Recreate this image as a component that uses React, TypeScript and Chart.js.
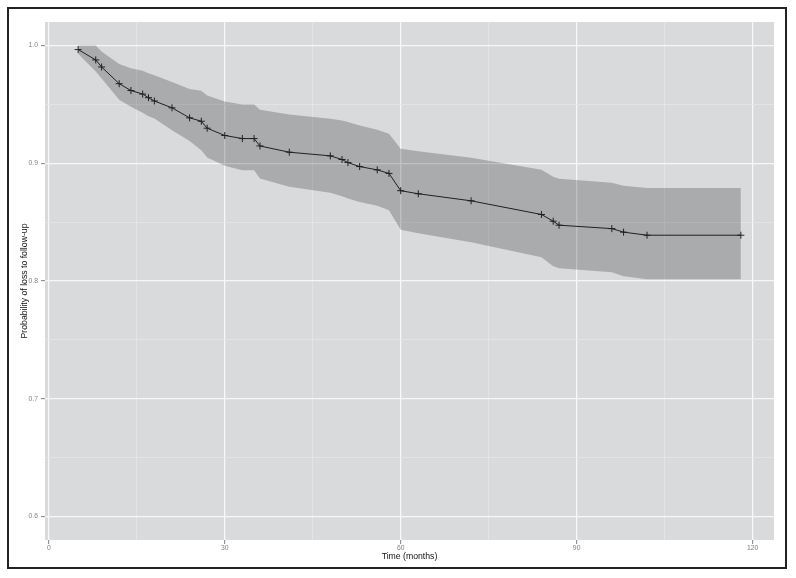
import React, { useEffect, useRef } from "react";
import { Chart, registerables } from "chart.js";

Chart.register(...registerables);

// Follow-up times (months)
const times = [5, 8, 9, 12, 14, 16, 17, 18, 21, 24, 26, 27, 30, 33, 35, 36, 41, 48, 50, 51, 53, 56, 58, 60, 63, 72, 84, 86, 87, 96, 98, 102, 118];
// Estimated probability
const estimate = [0.9966, 0.9878, 0.9818, 0.9676, 0.9618, 0.9588, 0.9557, 0.9529, 0.9471, 0.9386, 0.9357, 0.9298, 0.9236, 0.921, 0.921, 0.9147, 0.9094, 0.9063, 0.9032, 0.9006, 0.8972, 0.8944, 0.8914, 0.8767, 0.8741, 0.8681, 0.8565, 0.8508, 0.8474, 0.8445, 0.8415, 0.8389, 0.8389];
// Upper confidence bound
const upper = [1.0, 1.0, 0.995, 0.9843, 0.9807, 0.9785, 0.9765, 0.9748, 0.969, 0.963, 0.9615, 0.9575, 0.9525, 0.95, 0.95, 0.9455, 0.9415, 0.9378, 0.9363, 0.935, 0.932, 0.9284, 0.925, 0.9123, 0.9103, 0.9046, 0.8944, 0.8885, 0.8868, 0.8835, 0.881, 0.8789, 0.8789];
// Lower confidence bound
const lower = [0.993, 0.978, 0.972, 0.954, 0.948, 0.943, 0.94, 0.938, 0.928, 0.919, 0.911, 0.905, 0.898, 0.894, 0.894, 0.887, 0.88, 0.875, 0.872, 0.87, 0.867, 0.864, 0.86, 0.8435, 0.8405, 0.833, 0.8202, 0.8125, 0.8109, 0.8075, 0.804, 0.8015, 0.8015];

const xTicks = [0, 15, 30, 45, 60, 75, 90, 105, 120];
const yTicks = [0.6, 0.65, 0.7, 0.75, 0.8, 0.85, 0.9, 0.95, 1.0];
const xMajor = [0, 30, 60, 90, 120];
const yMajor = [0.6, 0.7, 0.8, 0.9, 1.0];

const xTitle = "Time (months)";
const yTitle = "Probability of loss to follow-up";

const PANEL = "rgb(217,218,220)";
const FONT = "'Liberation Sans', Arial, Helvetica, sans-serif";

const isMajorX = (v: number) => xMajor.some((m) => Math.abs(m - v) < 1e-6);
const isMajorY = (v: number) => yMajor.some((m) => Math.abs(m - v) < 1e-6);

const bgPlugin = {
  id: "ggbg",
  beforeDraw(chart: any) {
    const { ctx, chartArea } = chart;
    ctx.save();
    ctx.fillStyle = "#ffffff";
    ctx.fillRect(0, 0, chart.width, chart.height);
    ctx.fillStyle = PANEL;
    ctx.fillRect(chartArea.left, chartArea.top, chartArea.right - chartArea.left, chartArea.bottom - chartArea.top);
    ctx.restore();
  },
  afterDraw(chart: any) {
    const { ctx } = chart;
    ctx.save();
    ctx.strokeStyle = "#222222";
    ctx.lineWidth = 2;
    ctx.strokeRect(8, 8, 778, 560);
    ctx.restore();
  },
};

export default function App() {
  const ref = useRef<HTMLCanvasElement>(null);

  useEffect(() => {
    if (!ref.current) return;
    const pts = (arr: number[]) => times.map((t, i) => ({ x: t, y: arr[i] }));
    const chart = new Chart(ref.current, {
      type: "line",
      data: {
        datasets: [
          {
            data: pts(upper),
            borderWidth: 0,
            borderColor: "rgba(0,0,0,0)",
            pointRadius: 0,
            backgroundColor: "rgba(0,0,0,0.215)",
            fill: "+1",
            tension: 0,
          },
          {
            data: pts(lower),
            borderWidth: 0,
            borderColor: "rgba(0,0,0,0)",
            pointRadius: 0,
            fill: false,
            tension: 0,
          },
          {
            data: pts(estimate),
            borderColor: "#2a2a2a",
            borderWidth: 1,
            pointStyle: "cross",
            pointRadius: 3.5,
            pointBorderWidth: 1,
            pointBorderColor: "#2a2a2a",
            fill: false,
            tension: 0,
          },
        ],
      },
      options: {
        animation: false,
        responsive: false,
        devicePixelRatio: 1,
        layout: { padding: { left: 0, top: 22, right: 22, bottom: 0 } },
        plugins: { legend: { display: false }, tooltip: { enabled: false }, title: { display: false } },
        scales: {
          x: {
            type: "linear",
            min: -0.65,
            max: 123.65,
            afterBuildTicks: (s: any) => {
              s.ticks = xTicks.map((v) => ({ value: v }));
            },
            afterFit: (s: any) => {
              s.height = 38;
            },
            border: { display: false },
            grid: {
              color: (c: any) => (isMajorX(c.tick?.value) ? "#f7f7f8" : "rgb(229,230,232)"),
              lineWidth: (c: any) => (isMajorX(c.tick?.value) ? 1.3 : 0.8),
              tickColor: (c: any) => (isMajorX(c.tick?.value) ? "#808080" : "rgba(0,0,0,0)"),
              tickLength: 4,
              tickWidth: 1,
            },
            ticks: {
              autoSkip: false,
              maxRotation: 0,
              padding: 0,
              color: "#808080",
              font: { family: FONT, size: 6.8 },
              callback: (v: any) => (isMajorX(v) ? String(v) : ""),
            },
            title: {
              display: true,
              text: xTitle,
              color: "#111111",
              font: { family: FONT, size: 8.7 },
              padding: { top: 0, bottom: 16 },
            },
          },
          y: {
            type: "linear",
            min: 0.58,
            max: 1.02,
            afterBuildTicks: (s: any) => {
              s.ticks = yTicks.map((v) => ({ value: v }));
            },
            afterFit: (s: any) => {
              s.width = 45;
            },
            border: { display: false },
            grid: {
              color: (c: any) => (isMajorY(c.tick?.value) ? "#f7f7f8" : "rgb(229,230,232)"),
              lineWidth: (c: any) => (isMajorY(c.tick?.value) ? 1.3 : 0.8),
              tickColor: (c: any) => (isMajorY(c.tick?.value) ? "#808080" : "rgba(0,0,0,0)"),
              tickLength: 4,
              tickWidth: 1,
            },
            ticks: {
              autoSkip: false,
              padding: 3,
              color: "#808080",
              font: { family: FONT, size: 6.8 },
              callback: (v: any) => (isMajorY(v) ? Number(v).toFixed(1) : ""),
            },
            title: {
              display: true,
              text: yTitle,
              color: "#111111",
              font: { family: FONT, size: 8.7 },
              padding: { top: 19, bottom: 0 },
            },
          },
        },
      },
      plugins: [bgPlugin],
    } as any);
    return () => chart.destroy();
  }, []);

  return (
    <div style={{ position: "fixed", left: 0, top: 0, width: 796, height: 578, background: "#fff" }}>
      <canvas ref={ref} width={796} height={578} style={{ display: "block", width: 796, height: 578 }} />
    </div>
  );
}
